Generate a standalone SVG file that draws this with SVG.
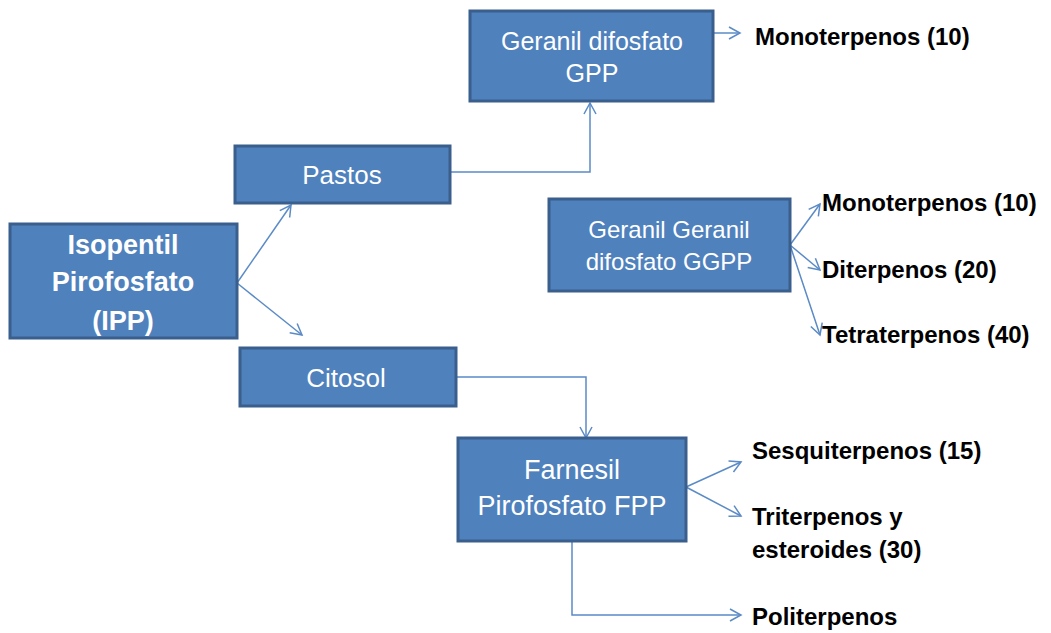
<svg xmlns="http://www.w3.org/2000/svg" width="1051" height="633" viewBox="0 0 1051 633">
<defs>
<marker id="arr" markerWidth="14" markerHeight="14" refX="12" refY="7" orient="auto" markerUnits="userSpaceOnUse">
<path d="M1,1 L12,7 L1,13" fill="none" stroke="#5B8BC6" stroke-width="1.5"/>
</marker>
<style>
.box{fill:#4F81BD;stroke:#3B5F8C;stroke-width:3}
.bt{fill:#fff;font-family:"Liberation Sans",Arial,sans-serif;font-size:24px;text-anchor:middle}
.bb{fill:#fff;font-family:"Liberation Sans",Arial,sans-serif;font-size:27px;font-weight:bold;text-anchor:middle}
.lab{fill:#000;font-family:"Liberation Sans",Arial,sans-serif;font-size:24px;font-weight:bold}
.c{fill:none;stroke:#5B8BC6;stroke-width:1.5}
</style>
</defs>
<rect width="1051" height="633" fill="#fff"/>
<g id="connectors">
<path class="c" d="M450,172 H590 V103" marker-end="url(#arr)"/>
<path class="c" d="M713,33 H740" marker-end="url(#arr)"/>
<path class="c" d="M790,245 L820,204" marker-end="url(#arr)"/>
<path class="c" d="M790,245 L820,270" marker-end="url(#arr)"/>
<path class="c" d="M790,245 L820,335" marker-end="url(#arr)"/>
<path class="c" d="M237,283 L291,205" marker-end="url(#arr)"/>
<path class="c" d="M237,283 L302,335" marker-end="url(#arr)"/>
<path class="c" d="M456,377 H586 V438" marker-end="url(#arr)"/>
<path class="c" d="M686,487 L741,462" marker-end="url(#arr)"/>
<path class="c" d="M686,487 L741,516" marker-end="url(#arr)"/>
<path class="c" d="M572,541 V615 H741" marker-end="url(#arr)"/>
</g>
<g id="ipp">
<rect class="box" x="10" y="224" width="227" height="114"/>
<text class="bb" x="123" y="254">Isopentil</text>
<text class="bb" x="123" y="291">Pirofosfato</text>
<text class="bb" x="123" y="330">(IPP)</text>
</g>
<g id="pastos">
<rect class="box" x="235" y="146" width="215" height="57"/>
<text class="bt" x="342" y="184" style="font-size:26px">Pastos</text>
</g>
<g id="citosol">
<rect class="box" x="240" y="348" width="216" height="58"/>
<text class="bt" x="346" y="387" style="font-size:26px">Citosol</text>
</g>
<g id="gpp">
<rect class="box" x="470" y="11" width="243" height="90"/>
<text class="bt" x="592" y="50" style="font-size:25px">Geranil difosfato</text>
<text class="bt" x="592" y="82" style="font-size:25px">GPP</text>
</g>
<g id="ggpp">
<rect class="box" x="549" y="199" width="241" height="92"/>
<text class="bt" x="669" y="238">Geranil Geranil</text>
<text class="bt" x="669" y="270">difosfato GGPP</text>
</g>
<g id="fpp">
<rect class="box" x="458" y="438" width="228" height="103"/>
<text class="bt" x="572" y="479" style="font-size:27px">Farnesil</text>
<text class="bt" x="572" y="515" style="font-size:27px">Pirofosfato FPP</text>
</g>
<g id="labels">
<text class="lab" x="755" y="45">Monoterpenos (10)</text>
<text class="lab" x="822" y="211">Monoterpenos (10)</text>
<text class="lab" x="822" y="278">Diterpenos (20)</text>
<text class="lab" x="822" y="343">Tetraterpenos (40)</text>
<text class="lab" x="752" y="459">Sesquiterpenos (15)</text>
<text class="lab" x="752" y="525">Triterpenos y</text>
<text class="lab" x="752" y="558">esteroides (30)</text>
<text class="lab" x="752" y="625">Politerpenos</text>
</g>
</svg>
